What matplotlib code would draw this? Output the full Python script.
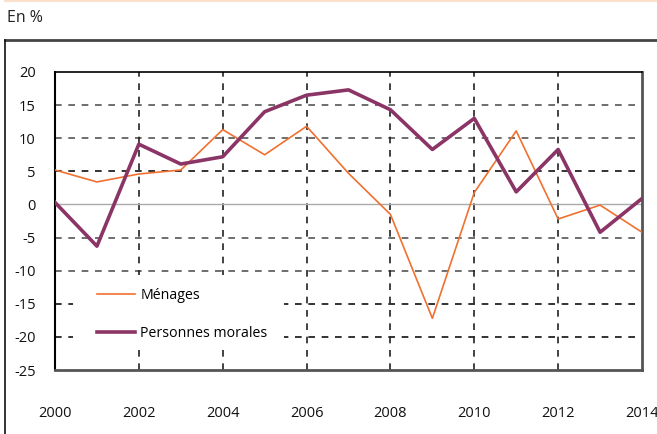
import matplotlib
matplotlib.use("Agg")
import matplotlib.pyplot as plt
from matplotlib.lines import Line2D
from matplotlib.patches import Rectangle

years = list(range(2000, 2015))
menages = [5.2, 3.4, 4.6, 5.2, 11.3, 7.5, 11.8, 4.7, -1.5, -17.2, 1.8, 11.1, -2.2, -0.1, -4.2]
personnes_morales = [0.3, -6.3, 9.1, 6.1, 7.2, 14.0, 16.5, 17.3, 14.3, 8.3, 13.0, 1.9, 8.3, -4.2, 0.9]
y_ticks = [20, 15, 10, 5, 0, -5, -10, -15, -20, -25]
x_ticks = [2000, 2002, 2004, 2006, 2008, 2010, 2012, 2014]

plt.rcParams['font.family'] = ['Open Sans', 'DejaVu Sans']

fig = plt.figure(figsize=(6.57, 4.34), dpi=100)
ax = fig.add_axes([55/657, 1-370/434, (642-55)/657, (370-72)/434])

# grid
for v in [15, 10, 5, -5, -10, -15, -20]:
    col = '#555555' if v in (15, 10, -5, -10) else '#111111'
    ax.axhline(v, color=col, lw=1.2, ls=(0, (4, 4)), zorder=1)
for v in [2002, 2004, 2006, 2008, 2010, 2012]:
    ax.axvline(v, color='#222222', lw=1.2, ls=(0, (4, 4)), zorder=1)
ax.axhline(0, color='#aaaaaa', lw=1, zorder=1)

# white background behind legend
ax.add_patch(Rectangle((0.0307, 0.084), 0.3595, 0.235, transform=ax.transAxes,
                       facecolor='white', edgecolor='none', zorder=2))

ax.plot(years, menages, color='#F07030', lw=1.2, zorder=3)
ax.plot(years, personnes_morales, color='#8B3567', lw=2.6, zorder=4)

ax.set_xlim(2000, 2014)
ax.set_ylim(-25, 20)
ax.set_yticks(y_ticks)
ax.set_yticklabels([str(v) for v in y_ticks])
ax.set_xticks(x_ticks)
ax.set_xticklabels([str(v) for v in x_ticks])
ax.tick_params(axis='both', length=0, labelsize=10.5, colors='#111111')
ax.tick_params(axis='x', pad=26)
ax.tick_params(axis='y', pad=14)

ax.spines['top'].set_color('black'); ax.spines['top'].set_linewidth(1.2)
ax.spines['left'].set_color('black'); ax.spines['left'].set_linewidth(1.5)
ax.spines['bottom'].set_color('#555555'); ax.spines['bottom'].set_linewidth(2)
ax.spines['bottom'].set_linestyle((0, (4, 1)))
ax.spines['right'].set_color('#555555'); ax.spines['right'].set_linewidth(2)
ax.spines['right'].set_linestyle((0, (4, 1)))

handles = [Line2D([], [], color='#F07030', lw=1.2),
           Line2D([], [], color='#8B3567', lw=2.6)]
leg = ax.legend(handles, ['Ménages', 'Personnes morales'], loc='upper left',
                bbox_to_anchor=(0.0716, 0.276), frameon=False, fontsize=10.2,
                handlelength=2.7, labelspacing=1.62, handletextpad=0.35,
                borderpad=0, borderaxespad=0)
leg.set_zorder(5)

# outer frame
fig.add_artist(Line2D([5/657, 1.0], [1-40/434, 1-40/434], color='#444444', lw=2,
                      transform=fig.transFigure))
fig.add_artist(Line2D([5/657, 5/657], [0, 1-40/434], color='#111111', lw=1.2,
                      transform=fig.transFigure))
fig.add_artist(Line2D([5/657, 1.0], [1-1/434, 1-1/434], color='#FBE0CC', lw=1.5,
                      transform=fig.transFigure))
fig.text(7/657, 1-18/434, 'En %', fontsize=11.5, va='center', ha='left', color='#222222')

fig.savefig('out.png', dpi=100)
